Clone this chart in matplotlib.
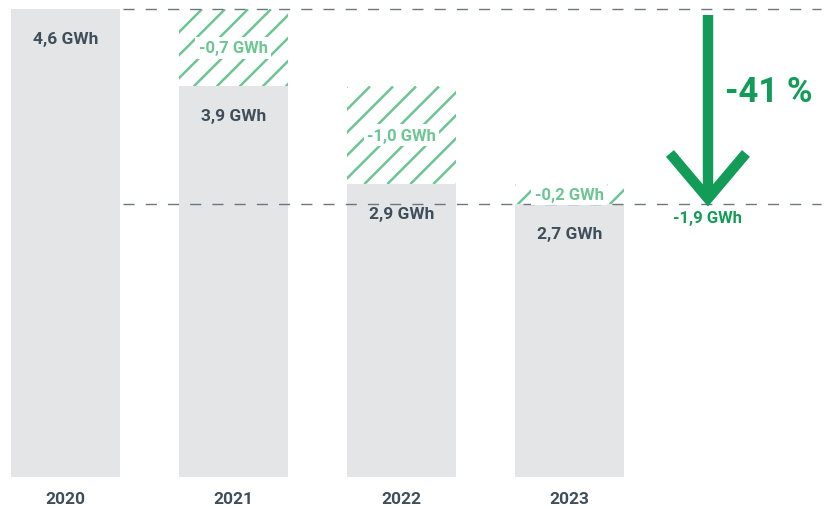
import numpy as np
import matplotlib.pyplot as plt
from matplotlib.patches import Rectangle

plt.rcParams['font.family'] = ['Roboto', 'DejaVu Sans']

# Data
years = ['2020', '2021', '2022', '2023']
values = [4.6, 3.84, 2.88, 2.68]          # bar heights (GWh) as drawn
value_labels = ['4,6 GWh', '3,9 GWh', '2,9 GWh', '2,7 GWh']
change_labels = [None, '-0,7 GWh', '-1,0 GWh', '-0,2 GWh']
total_change = '-1,9 GWh'
total_pct = '-41 %'

bar_color = '#e4e5e7'
text_dark = '#3e4f5b'
hatch_green = '#6cc693'
arrow_green = '#129c57'
dash_color = '#6b7780'

fig = plt.figure(figsize=(8.29, 5.10), dpi=100)
ax = fig.add_axes([0, 0, 1, 1])
ax.set_xlim(-0.39, 4.545)
ax.set_ylim(-0.315, 4.70)
ax.axis('off')

# pixels per data unit, used for label offsets and hatch slope
px_x = 168.0
px_y = 101.7
width = 0.649

x = np.arange(len(years))
ax.bar(x, values, width=width, color=bar_color, zorder=1)

for i, (v, lab) in enumerate(zip(values, value_labels)):
    ax.text(x[i], v - 29 / px_y, lab, ha='center', va='center',
            fontsize=12.5, fontweight='bold', color=text_dark, zorder=4)
    ax.text(x[i], -22 / px_y, years[i], ha='center', va='center',
            fontsize=12.5, fontweight='bold', color=text_dark)

# hatched decrease blocks
for i in range(1, len(values)):
    top = values[i - 1]
    bot = values[i]
    left = x[i] - width / 2
    rect = Rectangle((left, bot), width, top - bot, facecolor='none', edgecolor='none')
    ax.add_patch(rect)
    step = 23 / px_x
    slope = px_x / px_y
    h = top - bot
    for k in np.arange(-h / slope - step, width + step, step):
        x0 = left + k
        ln, = ax.plot([x0, x0 + h / slope], [bot, top], color=hatch_green,
                      lw=1.8, zorder=2, solid_capstyle='butt')
        ln.set_clip_path(rect)
    ax.text(x[i], (top + bot) / 2, change_labels[i], ha='center', va='center',
            fontsize=12, fontweight='bold', color=hatch_green, zorder=5,
            bbox=dict(facecolor='white', edgecolor='none', pad=2.5))

# dashed reference lines
for yv in (values[0], values[-1]):
    ax.plot([0.34, 4.5], [yv, yv], color=dash_color, lw=1.0,
            dashes=(8, 8), zorder=3)

# arrow
xa = (708 - 65.5) / px_x
y_top = values[0] - 6 / px_y
y_tip = values[-1] + 6 / px_y
ax.plot([xa, xa], [y_top, y_tip + 0.05], color=arrow_green, lw=7.5,
        solid_capstyle='butt', zorder=3)
arm_x = 38 / px_x
arm_y = 45 / px_y
ax.plot([xa - arm_x, xa, xa + arm_x], [y_tip + arm_y, y_tip, y_tip + arm_y],
        color=arrow_green, lw=7.5, solid_joinstyle='miter', solid_capstyle='butt', zorder=3)

ax.text((725 - 65.5) / px_x, (478 - 93) / px_y, total_pct, ha='left', va='center',
        fontsize=25, fontweight='bold', color=arrow_green)
ax.text(xa, values[-1] - 13 / px_y, total_change, ha='center', va='center',
        fontsize=12, fontweight='bold', color=arrow_green)

fig.savefig('out.png', dpi=100)
